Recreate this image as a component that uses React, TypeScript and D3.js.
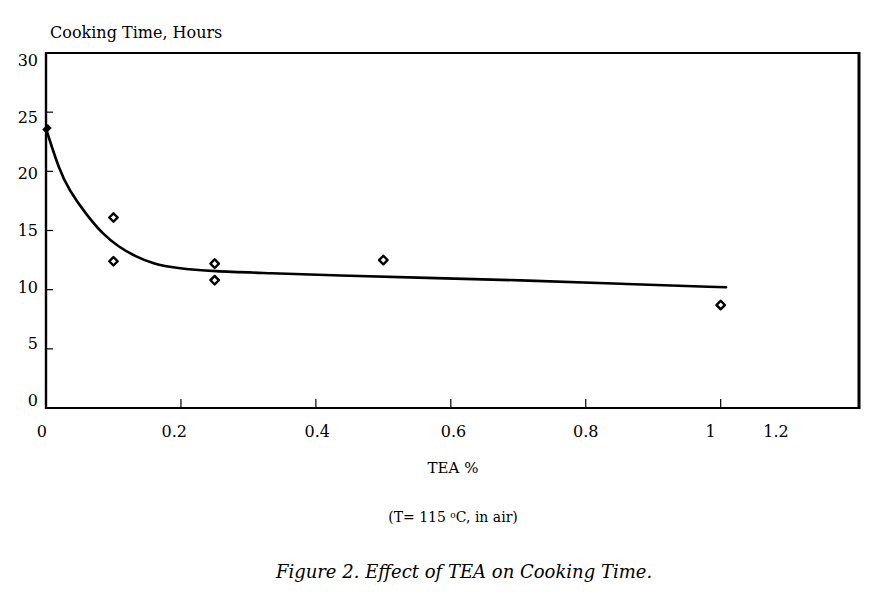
import React from "react";
import * as d3 from "d3";

// Measured data points (TEA %, cooking time in hours)
const teaPct = [0.1, 0.1, 0.25, 0.25, 0.5, 1.0];
const cookHours = [16.1, 12.4, 12.2, 10.8, 12.5, 8.7];
const zeroPoint = { x: 0, y: 23.6 };

// Fitted trend curve
const curveX = [0.0, 0.02, 0.0345, 0.059, 0.084, 0.108, 0.133, 0.158, 0.193, 0.247, 0.332, 0.431, 0.564, 0.702, 0.85, 1.008];
const curveY = [23.6, 20.05, 18.4, 16.4, 14.7, 13.6, 12.8, 12.2, 11.8, 11.55, 11.4, 11.2, 11.0, 10.8, 10.5, 10.2];

const xTicks = [0, 0.2, 0.4, 0.6, 0.8, 1];
const xTickLabels = ["0", "0.2", "0.4", "0.6", "0.8", "1", "1.2"];
const xTickLabelAt = [-0.006, 0.19, 0.402, 0.604, 0.8, 0.985, 1.082];
const yTicks = [0, 5, 10, 15, 20, 25, 30];

const W = 889;
const H = 604;
const FONT = "'DejaVu Serif', 'Liberation Serif', serif";

export default function App() {
  const x = d3.scaleLinear().domain([0, 1.205]).range([46, 859]);
  const y = d3.scaleLinear().domain([0, 30]).range([408, 53]);
  const yLabel = d3.scaleLinear().domain([0, 30]).range([400, 60]);

  const pts = curveX.map((v, i) => [v, curveY[i]] as [number, number]);
  const line = d3
    .line<[number, number]>()
    .x((d) => x(d[0]))
    .y((d) => y(d[1]))
    .curve(d3.curveBasis);

  const diamond = d3.symbol().type(d3.symbolSquare).size(36)();

  return (
    <svg
      width={W}
      height={H}
      style={{ position: "absolute", left: 0, top: 0, background: "#fff" }}
      fontFamily={FONT}
    >
      <rect x={0} y={0} width={W} height={H} fill="#fff" />
      {/* frame */}
      <line x1={x(0)} y1={y(30)} x2={x(1.205)} y2={y(30)} stroke="#000" strokeWidth={2.2} />
      <line x1={x(0)} y1={y(0)} x2={x(1.205)} y2={y(0)} stroke="#000" strokeWidth={2.2} />
      <line x1={x(0)} y1={y(30) - 1} x2={x(0)} y2={y(0) + 1} stroke="#000" strokeWidth={2.4} />
      <line x1={x(1.205)} y1={y(30) - 1} x2={x(1.205)} y2={y(0) + 1} stroke="#000" strokeWidth={3} />

      {/* x ticks */}
      {xTicks.map((t) => (
        <line key={"xt" + t} x1={x(t)} x2={x(t)} y1={y(0)} y2={y(0) - 9} stroke="#000" strokeWidth={1.2} />
      ))}
      {xTickLabels.map((s, i) => (
        <text key={"xl" + s} x={x(xTickLabelAt[i])} y={437} textAnchor="middle" fontSize={16} fill="#000">
          {s}
        </text>
      ))}

      {/* y ticks */}
      {yTicks.map((t) => (
        <line key={"yt" + t} x1={x(0)} x2={x(0) + 7} y1={y(t)} y2={y(t)} stroke="#000" strokeWidth={1.2} />
      ))}
      {yTicks.map((t) => (
        <text key={"yl" + t} x={38} y={yLabel(t) + 6} textAnchor="end" fontSize={16} fill="#000">
          {t}
        </text>
      ))}

      {/* curve */}
      <path d={line(pts) || ""} fill="none" stroke="#000" strokeWidth={2.6} strokeLinecap="round" />

      {/* zero marker */}
      <path
        d={diamond}
        transform={`translate(${x(zeroPoint.x) + 1},${y(zeroPoint.y)}) rotate(45) scale(0.8,1.1)`}
        fill="#000"
        stroke="#000"
        strokeWidth={1}
      />

      {/* data markers */}
      {teaPct.map((v, i) => (
        <path
          key={"p" + i}
          d={diamond}
          transform={`translate(${x(v)},${y(cookHours[i])}) rotate(45)`}
          fill="none"
          stroke="#000"
          strokeWidth={2.4}
          strokeLinejoin="round"
        />
      ))}

      {/* texts */}
      <text x={50} y={38} fontSize={16} fill="#000">Cooking Time, Hours</text>
      <text x={453} y={473} textAnchor="middle" fontSize={15} fill="#000">TEA %</text>
      <text x={453} y={522} textAnchor="middle" fontSize={14} fill="#000">
        (T= 115 <tspan fontSize={9} dy={-4}>o</tspan><tspan dy={4}>C, in air)</tspan>
      </text>
      <text x={464} y={578} textAnchor="middle" fontSize={18} fontStyle="italic" fill="#000">
        Figure 2. Effect of TEA on Cooking Time.
      </text>
    </svg>
  );
}
